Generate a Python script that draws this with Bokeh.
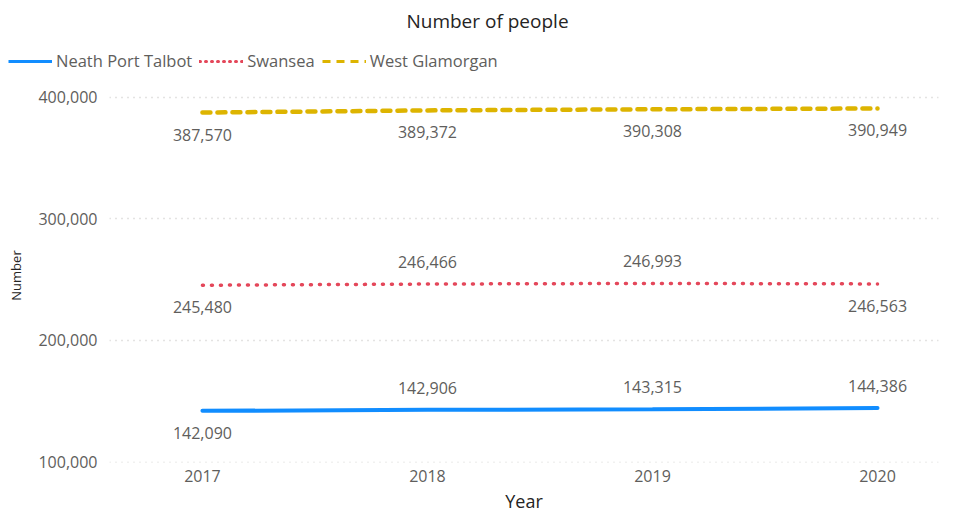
from bokeh.plotting import figure
from bokeh.layouts import column
from bokeh.models import ColumnDataSource, Legend, LegendItem, FixedTicker, NumeralTickFormatter, Label
from bokeh.core.properties import value
from bokeh.embed import file_html
from bokeh.resources import INLINE

years = [2017, 2018, 2019, 2020]
neath = [142090, 142906, 143315, 144386]
swansea = [245480, 246466, 246993, 246563]
westglam = [387570, 389372, 390308, 390949]
series_names = ["Neath Port Talbot", "Swansea", "West Glamorgan"]
# label placement: 1 = below the line, -1 = above
neath_pos = [1, -1, -1, -1]
swansea_pos = [1, -1, -1, 1]
westglam_pos = [1, 1, 1, 1]
y_ticks = [100000, 200000, 300000, 400000]
title_text = "Number of people"

FONT = "Open Sans"
GRAY = "#605E5C"
DARK = "#252423"
colors = ["#118DFF", "#E4475A", "#DDB400"]
widths = [4, 3.5, 4.5]
dashes = ["solid", "1 8", "8 7"]
legend_dashes = ["solid", "1 5", "8 6"]
legend_caps = ["butt", "round", "butt"]
series = [neath, swansea, westglam]

# ---- header: title + legend ----
H = 80
hdr = figure(width=941, height=H, output_backend="svg", toolbar_location=None,
             x_range=(0, 941), y_range=(0, H), x_axis_location=None, y_axis_location=None,
             min_border=0)
try:
    hdr.frame_align = False
except Exception:
    pass
hdr.outline_line_color = None
hdr.xgrid.grid_line_color = None
hdr.ygrid.grid_line_color = None
hdr.add_layout(Label(x=487, y=H - 20, text=title_text, text_align="center", text_baseline="middle",
                     text_font=FONT, text_font_size="19px", text_color=DARK))
items = []
for name, vals, c, d, cap in zip(series_names, series, colors, legend_dashes, legend_caps):
    # proxies for the legend: the years lie far outside this header's x range
    r = hdr.line(years, vals, line_color=c, line_width=3, line_dash=d, line_cap=cap)
    items.append(LegendItem(label=name, renderers=[r]))
legend = Legend(items=items, orientation="horizontal", location=(8, 8),
                label_text_font=FONT, label_text_font_size="16.5px", label_text_color=GRAY,
                glyph_width=44, glyph_height=20, label_standoff=4, spacing=7, padding=0, margin=0,
                border_line_color=None, background_fill_alpha=0, label_height=20)
hdr.add_layout(legend, "center")

# ---- main chart ----
p = figure(width=941, height=515 - H, output_backend="svg", toolbar_location=None,
           x_range=(2016.587, 2020.271), y_range=(99590, 407400),
           min_border_left=109, min_border_right=3, min_border_top=8, min_border_bottom=44)
try:
    p.frame_align = False
except Exception:
    pass
p.outline_line_color = None
p.background_fill_color = "white"

for vals, c, w, d in zip(series, colors, widths, dashes):
    p.line(years, vals, line_color=c, line_width=w, line_dash=d, line_cap="round")

for vals, pos in [(neath, neath_pos), (swansea, swansea_pos), (westglam, westglam_pos)]:
    src = ColumnDataSource(dict(x=years, y=vals, t=[f"{v:,}" for v in vals],
                                off=[22 * s for s in pos]))
    p.text(x="x", y="y", text="t", y_offset="off", source=src, text_align="center",
           text_baseline="middle", text_color=GRAY, text_font=value(FONT), text_font_size="16px")

for ax in (p.xaxis, p.yaxis):
    ax.axis_line_color = None
    ax.major_tick_line_color = None
    ax.minor_tick_line_color = None
    ax.major_tick_out = 0
    ax.major_tick_in = 0
    ax.minor_tick_out = 0
    ax.minor_tick_in = 0
    ax.major_label_text_font = FONT
    ax.major_label_text_font_size = "16px"
    ax.major_label_text_color = GRAY
    ax.axis_label_text_font = FONT
    ax.axis_label_text_font_style = "normal"
    ax.axis_label_text_color = DARK

p.xaxis.ticker = FixedTicker(ticks=years)
p.xaxis.major_label_standoff = 7
p.xaxis.axis_label = "Year"
p.xaxis.axis_label_text_font_size = "18px"
p.xaxis.axis_label_standoff = 4

p.yaxis.ticker = FixedTicker(ticks=y_ticks)
p.yaxis.formatter = NumeralTickFormatter(format="0,0")
p.yaxis.major_label_standoff = 12
p.yaxis.axis_label = "Number"
p.yaxis.axis_label_text_font_size = "13px"
p.yaxis.axis_label_standoff = 10

p.xgrid.grid_line_color = None
p.ygrid.grid_line_color = "#C8C6C4"
p.ygrid.grid_line_dash = "1 5"
p.ygrid.grid_line_width = 1.5

layout = column(hdr, p, spacing=0)
open("out.html", "w").write(file_html(layout, INLINE))
